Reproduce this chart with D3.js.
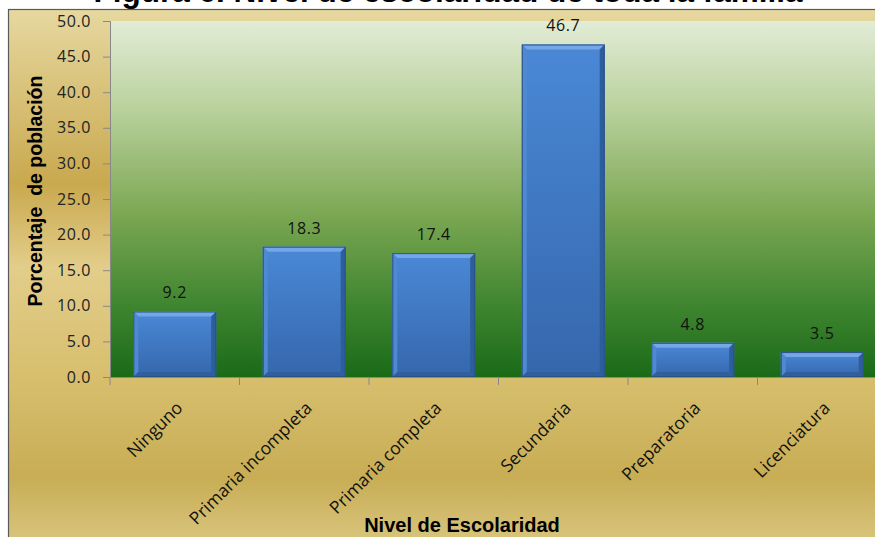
<!DOCTYPE html>
<html><head><meta charset="utf-8">
<script src="https://cdn.jsdelivr.net/npm/d3@7"></script>
<style>html,body{margin:0;padding:0;background:#fff;overflow:hidden}</style>
</head><body>
<svg id="c" width="875" height="537"></svg>
<script>
const categories = ["Ninguno","Primaria incompleta","Primaria completa","Secundaria","Preparatoria","Licenciatura"];
const values = [9.2, 18.3, 17.4, 46.7, 4.8, 3.5];
const yTicks = [0,5,10,15,20,25,30,35,40,45,50];
const title = "Figura 6. Nivel de escolaridad de toda la familia";
const yTitle = "Porcentaje  de población";
const xTitle = "Nivel de Escolaridad";

const svg = d3.select("#c");
const defs = svg.append("defs");
const W = 875, H = 537;
const m = {left:110, top:21, right:-12, bottom:160};
const x = d3.scaleBand().domain(categories).range([m.left, W - m.right]).paddingInner(0.36).paddingOuter(0.18);
const xb = d3.scaleBand().domain(categories).range([m.left, W - m.right]);
const y = d3.scaleLinear().domain([0,50]).range([377, m.top]);
const bodyFont = "Open Sans, Liberation Sans, Arial, sans-serif";
const boldFont = "Liberation Sans, Arial, sans-serif";

// outer gold gradient
const g1 = defs.append("linearGradient").attr("id","gold").attr("x1",0).attr("y1",0).attr("x2",0).attr("y2",1);
[[0,"#e6d8a0"],[0.29,"#c9a94f"],[0.43,"#e2cd8a"],[0.6,"#d8c070"],[0.78,"#c8ad55"],[1,"#e9dda6"]]
  .forEach(s=>g1.append("stop").attr("offset",s[0]).attr("stop-color",s[1]));
// plot green gradient
const g2 = defs.append("linearGradient").attr("id","green").attr("x1",0).attr("y1",0).attr("x2",0).attr("y2",1);
[[0,"#e2ecd6"],[0.25,"#b9d19c"],[0.55,"#7aa651"],[0.8,"#3f8530"],[1,"#1a6a18"]]
  .forEach(s=>g2.append("stop").attr("offset",s[0]).attr("stop-color",s[1]));
// bar gradient
const g3 = defs.append("linearGradient").attr("id","bar").attr("x1",0).attr("y1",0).attr("x2",0).attr("y2",1);
[[0,"#4a88d6"],[1,"#3567ac"]].forEach(s=>g3.append("stop").attr("offset",s[0]).attr("stop-color",s[1]));

// title (partially clipped at top, as in the reference)
svg.append("text").attr("x",448).attr("y",1.5).attr("text-anchor","middle")
  .attr("font-family",boldFont).attr("font-weight","bold").attr("font-size",31.5)
  .attr("fill","#000").text(title);

svg.append("rect").attr("x",8.5).attr("y",9.5).attr("width",900).attr("height",600)
  .attr("fill","url(#gold)").attr("stroke","#5a5a5a").attr("stroke-width",1.2);

// plot area
svg.append("rect").attr("x",m.left).attr("y",y(50)).attr("width",W - m.right - m.left).attr("height",y(0)-y(50))
  .attr("fill","url(#green)");

// bars
const bars = svg.append("g").selectAll("g").data(values).join("g");
bars.each(function(v,i){
  const g = d3.select(this);
  const x0 = x(categories[i]), w = x.bandwidth(), y0 = y(v), y1 = y(0), h = y1-y0;
  const b = Math.min(5, h/3);
  g.append("rect").attr("x",x0).attr("y",y0).attr("width",w).attr("height",h).attr("fill","url(#bar)");
  g.append("polygon").attr("points",[[x0,y0],[x0+w,y0],[x0+w-b,y0+b],[x0+b,y0+b]].join(" ")).attr("fill","#79aaea").attr("opacity",0.9);
  g.append("polygon").attr("points",[[x0,y0],[x0+b,y0+b],[x0+b,y1-b],[x0,y1]].join(" ")).attr("fill","#4f89d2");
  g.append("polygon").attr("points",[[x0+w,y0],[x0+w,y1],[x0+w-b,y1-b],[x0+w-b,y0+b]].join(" ")).attr("fill","#2e5d9c");
  g.append("polygon").attr("points",[[x0,y1],[x0+b,y1-b],[x0+w-b,y1-b],[x0+w,y1]].join(" ")).attr("fill","#2f5f9e");
  g.append("rect").attr("x",x0+0.5).attr("y",y0+0.5).attr("width",w-1).attr("height",h-1).attr("fill","none").attr("stroke","#2a5287").attr("stroke-width",1);
  g.append("text").attr("x",x0+w/2).attr("y",y0-13).attr("text-anchor","middle")
    .attr("font-family",bodyFont).attr("font-size",16).attr("letter-spacing",0.6).attr("fill","#111")
    .text(v.toFixed(1));
});

// y axis
const yAxis = svg.append("g").attr("transform",`translate(${m.left},0)`)
  .call(d3.axisLeft(y).tickValues(yTicks).tickFormat(d3.format(".1f")).tickSize(7).tickPadding(12));
yAxis.select(".domain").attr("stroke","#888");
yAxis.selectAll(".tick line").attr("stroke","#888");
yAxis.selectAll("text").attr("font-family",bodyFont).attr("font-size",16).attr("letter-spacing",0.6).attr("fill","#222");

// x axis
const xAxis = svg.append("g").attr("transform",`translate(0,${y(0)})`)
  .call(d3.axisBottom(xb).tickSize(0).tickFormat(""));
xAxis.select(".domain").attr("stroke","#888");
xAxis.selectAll(".tick").remove();
svg.append("g").selectAll("line").data(categories).join("line")
  .attr("x1",d=>xb(d)).attr("x2",d=>xb(d)).attr("y1",y(0)).attr("y2",y(0)+8).attr("stroke","#888");

// category labels
svg.append("g").selectAll("text").data(categories).join("text")
  .attr("transform",d=>`translate(${xb(d)+xb.bandwidth()/2+9},${y(0)+32}) rotate(-45)`)
  .attr("text-anchor","end")
  .attr("font-family",bodyFont).attr("font-size",17.5).attr("fill","#111")
  .text(d=>d);

// axis titles
svg.append("text").attr("transform",`translate(42,191) rotate(-90)`).attr("text-anchor","middle")
  .attr("font-family",boldFont).attr("font-weight","bold").attr("font-size",19.5)
  .attr("fill","#000").style("white-space","pre").text(yTitle);
svg.append("text").attr("x",462).attr("y",532).attr("text-anchor","middle")
  .attr("font-family",boldFont).attr("font-weight","bold").attr("font-size",20)
  .attr("fill","#000").text(xTitle);
</script>
</body></html>
